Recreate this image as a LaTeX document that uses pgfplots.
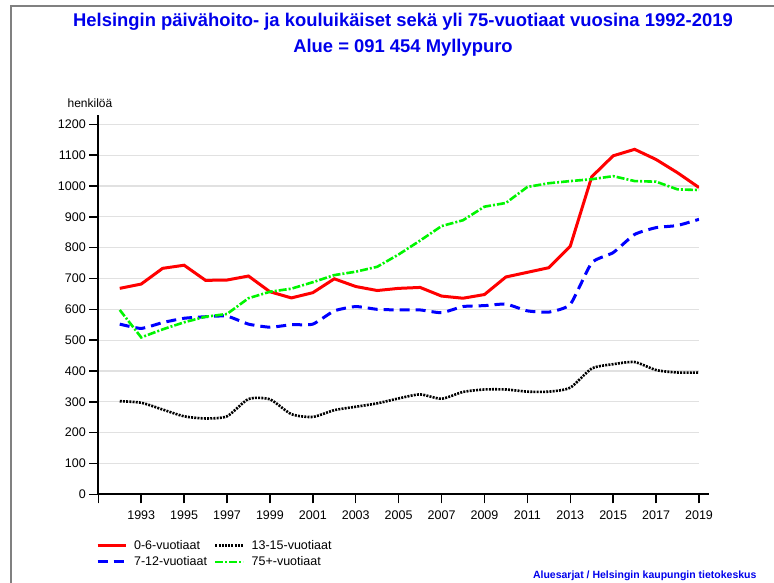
\documentclass[border=0pt]{standalone}
\usepackage{pgfplots}
\pgfplotsset{compat=1.18}
\usepackage{fontspec}
\setmainfont{Liberation Sans}
\definecolor{tblue}{RGB}{0,0,235}
\definecolor{lred}{RGB}{255,0,0}
\definecolor{lgreen}{RGB}{0,245,0}
\definecolor{lblue}{RGB}{0,0,255}
\definecolor{gridgray}{RGB}{225,225,225}
\begin{document}
\begin{tikzpicture}[x=1pt,y=1pt]
\path[use as bounding box] (0,0) rectangle (774,-583);
\draw[gray, line width=1.5pt] (11,-583) -- (11,-6) -- (774,-6);
\node[font=\bfseries\fontsize{18.4}{21}\selectfont, text=tblue] at (403,-22) {Helsingin päivähoito- ja kouluikäiset sekä yli 75-vuotiaat vuosina 1992-2019};
\node[font=\bfseries\fontsize{18.4}{21}\selectfont, text=tblue] at (403,-48) {Alue = 091 454 Myllypuro};
\node[font=\fontsize{12}{14}\selectfont] at (90,-103) {henkilöä};
\node[font=\bfseries\fontsize{10.5}{12}\selectfont, text=tblue, anchor=east] at (760,-576) {Aluesarjat / Helsingin kaupungin tietokeskus};
\begin{axis}[
  at={(98.3pt,-494.3pt)}, anchor=south west,
  scale only axis, width=600.7pt, height=379.2pt,
  xmin=1991, xmax=2019, ymin=0, ymax=1230,
  axis lines=left,
  axis line style={-, line width=2pt, black},
  x axis line style={shorten >=-10pt},
  xtick={1991,1993,...,2019},
  xticklabels={{},1993,1995,1997,1999,2001,2003,2005,2007,2009,2011,2013,2015,2017,2019},
  ytick={0,100,...,1200},
  tick align=outside,
  major tick length=9pt,
  tick style={line width=1.5pt, black},
  ymajorgrids,
  grid style={line width=1.3pt, gridgray},
  /pgf/number format/assume math mode=true,
  /pgf/number format/1000 sep={},
  ticklabel style={font=\fontsize{12.5}{14}\selectfont},
  xticklabel style={yshift=-4pt},
  legend columns=2,
  legend cell align=left,
  legend style={draw=none, fill=none, at={(-0.004,-0.115)}, anchor=north west,
    font=\fontsize{12.5}{14}\selectfont, column sep=6pt, row sep=2pt, inner sep=0pt,
    nodes={inner xsep=1pt}},
  legend image code/.code={\draw[#1] (0pt,0pt) -- (28pt,0pt);},
]
\addplot[lred, line width=3pt] coordinates {
(1992,668)(1993,682)(1994,733)(1995,743)(1996,694)(1997,695)(1998,708)(1999,657)(2000,637)
(2001,654)(2002,699)(2003,674)(2004,661)(2005,668)(2006,671)(2007,643)(2008,636)(2009,648)
(2010,705)(2011,720)(2012,735)(2013,805)(2014,1030)(2015,1098)(2016,1119)(2017,1086)(2018,1043)(2019,995)};
\addlegendentry{0-6-vuotiaat}
\addplot[black, line width=2.6pt, dash pattern=on 2pt off 1.2pt, smooth, tension=0.4] coordinates {
(1992,302)(1993,297)(1994,275)(1995,253)(1996,246)(1997,253)(1998,309)(1999,308)(2000,260)
(2001,251)(2002,273)(2003,284)(2004,295)(2005,311)(2006,324)(2007,310)(2008,332)(2009,340)
(2010,340)(2011,333)(2012,333)(2013,346)(2014,408)(2015,422)(2016,429)(2017,403)(2018,395)(2019,395)};
\addlegendentry{13-15-vuotiaat}
\addplot[lblue, line width=3pt, dash pattern=on 10pt off 6pt, smooth, tension=0.3] coordinates {
(1992,552)(1993,538)(1994,557)(1995,571)(1996,576)(1997,578)(1998,552)(1999,542)(2000,550)
(2001,552)(2002,595)(2003,609)(2004,600)(2005,598)(2006,598)(2007,589)(2008,609)(2009,612)
(2010,617)(2011,595)(2012,591)(2013,616)(2014,751)(2015,784)(2016,843)(2017,865)(2018,872)(2019,892)};
\addlegendentry{7-12-vuotiaat}
\addplot[lgreen, line width=2.6pt, dash pattern=on 8pt off 2pt on 2pt off 2pt] coordinates {
(1992,598)(1993,509)(1994,535)(1995,558)(1996,576)(1997,585)(1998,636)(1999,657)(2000,667)
(2001,688)(2002,711)(2003,722)(2004,738)(2005,778)(2006,823)(2007,870)(2008,889)(2009,933)
(2010,945)(2011,997)(2012,1009)(2013,1016)(2014,1022)(2015,1032)(2016,1016)(2017,1014)(2018,989)(2019,987)};
\addlegendentry{75+-vuotiaat}
\end{axis}
\end{tikzpicture}
\end{document}
